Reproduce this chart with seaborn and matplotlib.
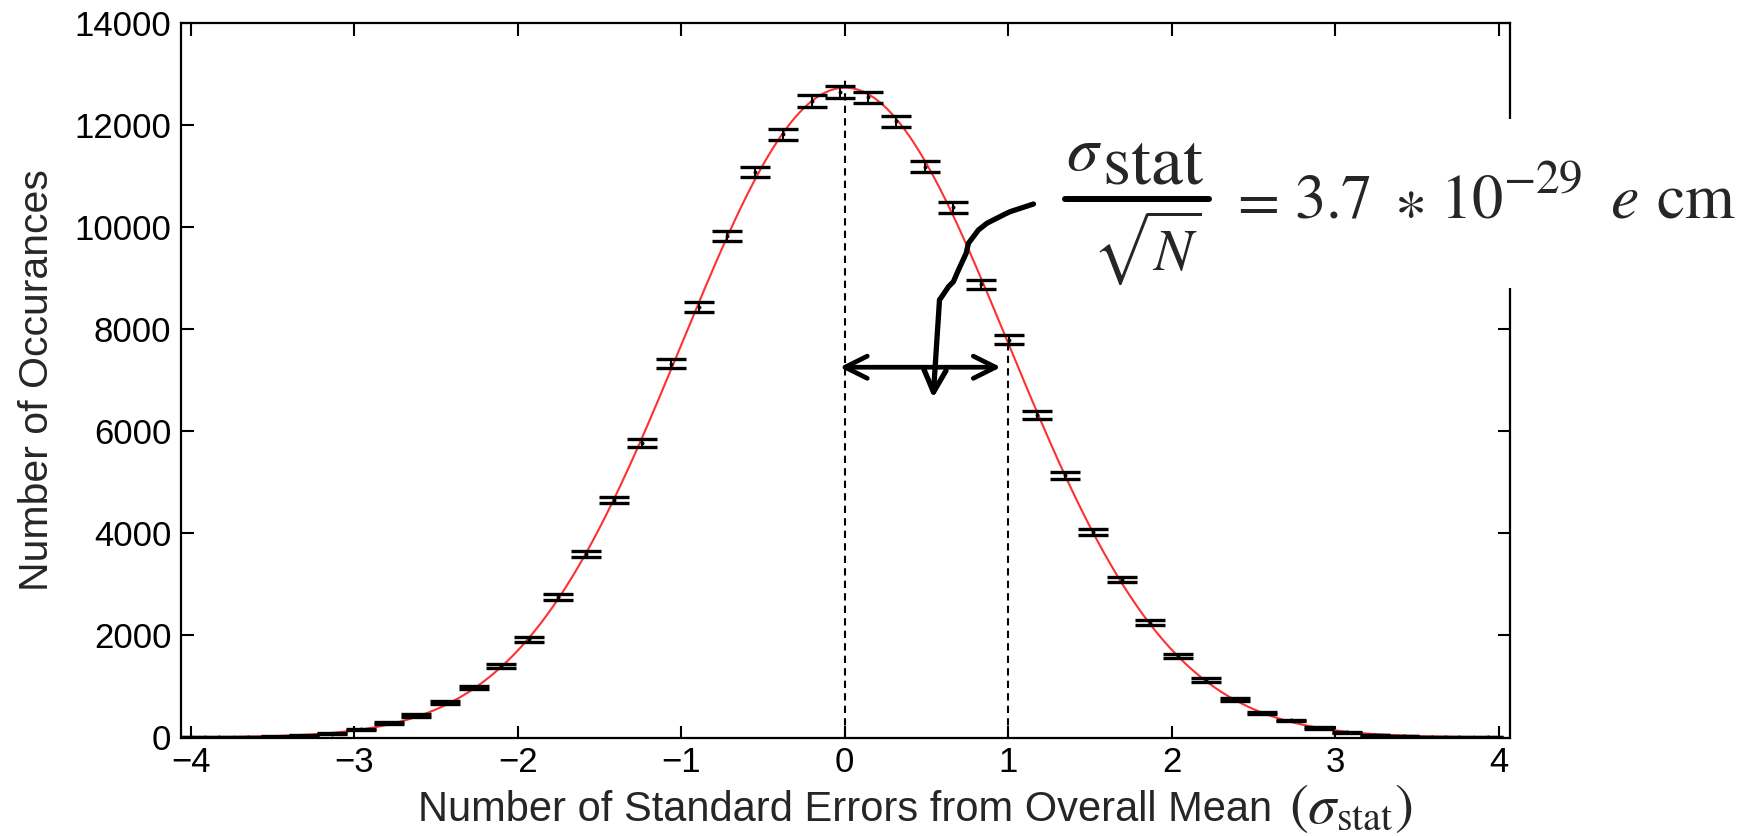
import numpy as np
import pandas as pd
import matplotlib
matplotlib.use("Agg")
import matplotlib.pyplot as plt
from matplotlib.patches import Rectangle
from matplotlib.lines import Line2D
import seaborn as sns

# ---------------- data ----------------
bin_centers = [-4.00, -3.825, -3.65, -3.48, -3.31, -3.135, -2.96, -2.79, -2.62, -2.445,
               -2.27, -2.10, -1.93, -1.755, -1.58, -1.41, -1.24, -1.065, -0.89, -0.72,
               -0.55, -0.375, -0.20, -0.03, 0.14, 0.315, 0.49, 0.66, 0.835, 1.005,
               1.175, 1.35, 1.52, 1.695, 1.865, 2.04, 2.21, 2.385, 2.555, 2.73,
               2.90, 3.075, 3.245, 3.42, 3.59, 3.76, 3.935]
counts = [2, 4, 9, 18, 35, 75, 160, 280, 430, 680,
          980, 1400, 1920, 2750, 3600, 4650, 5770, 7320, 8430, 9816,
          11075, 11814, 12467, 12643, 12533, 12069, 11174, 10378, 8870, 7785,
          6309, 5133, 4023, 3092, 2247, 1594, 1130, 738, 483, 333,
          183, 105, 50, 25, 11, 5, 2]
count_errors = [1, 2, 3, 4, 6, 9, 13, 17, 21, 26,
                31, 37, 44, 52, 60, 68, 76, 86, 92, 99,
                105, 109, 112, 112, 112, 110, 106, 102, 94, 88,
                79, 72, 63, 56, 47, 40, 34, 27, 22, 18,
                13, 10, 7, 5, 3, 2, 1]
x_ticks = [-4, -3, -2, -1, 0, 1, 2, 3, 4]
y_ticks = [0, 2000, 4000, 6000, 8000, 10000, 12000, 14000]
marked_positions = [0.0, 1.0]          # dashed guide lines (in sigma)
marked_tops = [12870, 7700]

# hand-drawn pointer (annotation)
pointer_x = [1.155, 1.012, 0.982, 0.870, 0.818, 0.757, 0.743, 0.696, 0.665, 0.635, 0.594, 0.580]
pointer_y = [10446, 10296, 10251, 10069, 9937, 9677, 9481, 9154, 8925, 8827, 8631, 8567]
pointer_tip = (0.541, 6648)
span_y = 7250
span_x = (-0.03, 0.955)

df = pd.DataFrame({"x": bin_centers, "n": counts, "err": count_errors})

# Gaussian fit from the histogram moments
xa = df["x"].to_numpy(); ya = df["n"].to_numpy(dtype=float)
dx = np.mean(np.diff(xa))
mu = (xa * ya).sum() / ya.sum()
sig = np.sqrt((ya * (xa - mu) ** 2).sum() / ya.sum())
amp = ya.sum() * dx / (sig * np.sqrt(2 * np.pi))
xf = np.linspace(-4.0, 4.0, 600)
fit = pd.DataFrame({"x": xf, "y": amp * np.exp(-0.5 * ((xf - mu) / sig) ** 2)})

# ---------------- styling ----------------
sns.set_style("ticks")
plt.rcParams["font.family"] = ["Liberation Sans", "DejaVu Sans"]
plt.rcParams["mathtext.fontset"] = "stix"

W, H = 1759, 836
fig = plt.figure(figsize=(W / 100, H / 100), dpi=100)
ax = fig.add_axes([181 / W, 1 - 737.5 / H, (1510 - 181) / W, (737.5 - 22.5) / H])


def ftxt(px, py, s, **kw):
    return fig.text(px / W, 1 - py / H, s, **kw)


sns.lineplot(data=fit, x="x", y="y", ax=ax, color="#ff3030", lw=1.5, zorder=2, legend=False)
ax.errorbar(df["x"], df["n"], yerr=df["err"], fmt="none", ecolor="black",
            elinewidth=1.4, capsize=10.8, capthick=2.4, zorder=3)
sns.scatterplot(data=df, x="x", y="n", ax=ax, s=8, color="black", linewidth=0, zorder=4, legend=False)

for xp, top in zip(marked_positions, marked_tops):
    ax.plot([xp, xp], [0, top], color="black", lw=1.5, ls=(0, (3.5, 2.5)), zorder=3)

# double arrow
ax.annotate("", xy=(span_x[0], span_y), xytext=(span_x[1], span_y),
            arrowprops=dict(arrowstyle="<->,head_length=1.6,head_width=0.8",
                            lw=3.4, color="black", shrinkA=0, shrinkB=0), zorder=5)
# hand-drawn pointer
ax.plot(pointer_x, pointer_y, color="black", lw=3.8, solid_capstyle="round",
        solid_joinstyle="round", zorder=5)
ax.annotate("", xy=pointer_tip, xytext=(pointer_x[-1], pointer_y[-1]),
            arrowprops=dict(arrowstyle="->,head_length=1.6,head_width=0.8",
                            lw=3.8, color="black", shrinkA=0, shrinkB=0), zorder=5)

ax.set_xlim(-4.06, 4.07)
ax.set_ylim(0, 14000)
ax.set_xticks(x_ticks)
ax.set_yticks(y_ticks)
ax.set_xticklabels([f"{t}".replace("-", "\u2212") for t in x_ticks])
ax.set_yticklabels([str(t) for t in y_ticks])
ax.tick_params(direction="in", length=9, width=1.5, top=True, right=True,
               labelsize=25, pad=7, colors="black")
ax.tick_params(axis="x", pad=6)
for s in ax.spines.values():
    s.set_linewidth(1.6)
    s.set_color("black")

ax.set_ylabel("Number of Occurances", fontsize=29.5)
ax.yaxis.set_label_coords(-0.094, 0.5)
ax.set_xlabel("Number of Standard Errors from Overall Mean", fontsize=30)
ax.xaxis.label.set_va("baseline")
ax.xaxis.set_label_coords(0.5, (737.5 - 821) / 715)
ftxt(1289, 823, r"$(\sigma_{\mathrm{stat}})$", fontsize=41, ha="left", va="baseline")

# white panel behind the formula (breaks the right spine)
fig.add_artist(Rectangle((1050 / W, 1 - 288 / H), (W - 1050) / W, (288 - 119) / H,
                         transform=fig.transFigure, facecolor="white",
                         edgecolor="none", zorder=5))
# formula  sigma_stat / sqrt(N) = 3.7 * 10^-29 e cm
ftxt(1066, 170, r"$\sigma$", fontsize=46, ha="left", va="baseline", zorder=6)
ftxt(1102, 183, r"$\mathrm{stat}$", fontsize=52, ha="left", va="baseline", zorder=6)
fig.add_artist(Line2D([1065 / W, 1209 / W], [1 - 199 / H, 1 - 199 / H],
                      transform=fig.transFigure, color="black", lw=4.3, zorder=6))
ftxt(1092, 270, r"$\sqrt{N}$", fontsize=42, ha="left", va="baseline", zorder=6)
ftxt(1229, 218, r"$=$", fontsize=44, ha="left", va="baseline", zorder=6)
ftxt(1294, 218, r"$3.7$", fontsize=45, ha="left", va="baseline", zorder=6)
ftxt(1394, 218, r"$\ast$", fontsize=44, ha="left", va="baseline", zorder=6)
ftxt(1440, 218, r"$10$", fontsize=45, ha="left", va="baseline", zorder=6)
ftxt(1503, 193, r"$-29$", fontsize=34, ha="left", va="baseline", zorder=6)
ftxt(1610, 218, r"$e$", fontsize=46, ha="left", va="baseline", zorder=6)
ftxt(1656, 218, r"$\mathrm{cm}$", fontsize=46, ha="left", va="baseline", zorder=6)

fig.savefig("out.png", dpi=100)
